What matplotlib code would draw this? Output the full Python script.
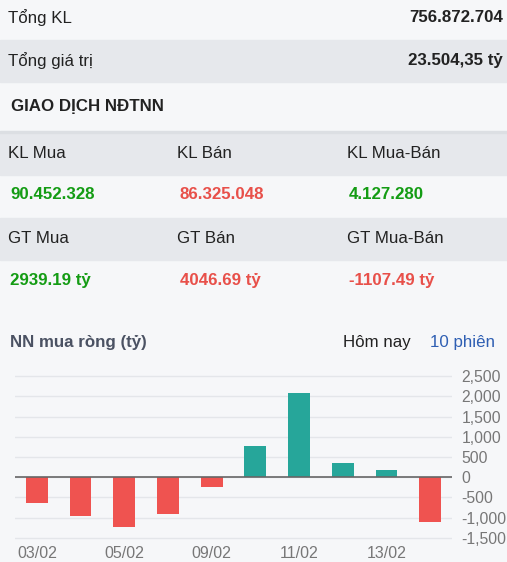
import matplotlib
matplotlib.use("Agg")
import matplotlib.pyplot as plt
from matplotlib.patches import Rectangle

# ---- data ----
summary_labels = ["Tổng KL", "Tổng giá trị"]
summary_values = ["756.872.704", "23.504,35 tỷ"]
section_title = "GIAO DỊCH NĐTNN"
kl_headers = ["KL Mua", "KL Bán", "KL Mua-Bán"]
kl_values = ["90.452.328", "86.325.048", "4.127.280"]
gt_headers = ["GT Mua", "GT Bán", "GT Mua-Bán"]
gt_values = ["2939.19 tỷ", "4046.69 tỷ", "-1107.49 tỷ"]
value_signs = [1, -1, 1]      # colour of KL row
gt_signs = [1, -1, -1]        # colour of GT row

dates = ["03/02", "04/02", "05/02", "06/02", "09/02",
         "10/02", "11/02", "12/02", "13/02", "16/02"]
net_buy = [-630, -950, -1240, -910, -250, 760, 2080, 345, 190, -1107.49]
yticks = [-1500, -1000, -500, 0, 500, 1000, 1500, 2000, 2500]

W, H = 507, 562
BG_LIGHT = "#f6f7f9"
BG_GRAY = "#e6e8ec"
INK = "#222222"
GREEN = "#149c14"
RED = "#e8504a"
TEAL = "#26a69a"
BAR_RED = "#ef5350"
FONT = "Liberation Sans"
FS = 12.2

plt.rcParams["font.family"] = [FONT, "DejaVu Sans"]

fig = plt.figure(figsize=(W / 100, H / 100), dpi=100)
fig.patch.set_facecolor(BG_LIGHT)


def band(y0, y1, color):
    fig.patches.append(Rectangle((0, 1 - y1 / H), 1, (y1 - y0) / H,
                                 transform=fig.transFigure, color=color, zorder=0))


def txt(x, y, s, **kw):
    kw.setdefault("fontsize", FS)
    kw.setdefault("color", INK)
    fig.text(x / W, 1 - y / H, s, va="center", **kw)


# row backgrounds
band(40, 82, BG_GRAY)
band(132, 175, BG_GRAY)
band(218, 260, BG_GRAY)
band(131.5, 132.5, "#dcdfe3")

# summary rows
for (lab, val), yc in zip(zip(summary_labels, summary_values), [18, 61]):
    txt(8, yc, lab)
    txt(503, yc, val, ha="right", fontweight="bold")

txt(11, 107, section_title, fontweight="bold")

cols = [8, 177, 347]
vcols = [10, 180, 349]
for x, h in zip(cols, kl_headers):
    txt(x, 153, h)
for x, v, s in zip(vcols, kl_values, value_signs):
    txt(x, 195, v, fontweight="bold", color=GREEN if s > 0 else RED)
for x, h in zip(cols, gt_headers):
    txt(x, 238, h)
for x, v, s in zip(vcols, gt_values, gt_signs):
    txt(x, 281, v, fontweight="bold", color=GREEN if s > 0 else RED)

# chart header
txt(10, 342, "NN mua ròng (tỷ)", fontweight="bold", color="#4b5263")
txt(343, 342, "Hôm nay")
txt(430, 342, "10 phiên", color="#2f5fb3")

# ---- bar chart ----
ax_top, ax_bot = 372, 542
ax = fig.add_axes([15 / W, 1 - ax_bot / H, 437 / W, (ax_bot - ax_top) / H])
ax.set_facecolor("none")
xs = list(range(len(dates)))
colors = [TEAL if v >= 0 else BAR_RED for v in net_buy]
ax.bar(xs, net_buy, width=0.5, color=colors, zorder=3)
ax.axhline(0, color="#666666", lw=1.2, zorder=4)
ax.set_xlim(-0.5, len(dates) - 0.5)
ax.set_ylim(-1600, 2600)
ax.set_yticks(yticks)
ax.set_yticklabels([f"{t:,}" for t in yticks])
ax.grid(axis="y", color="#e4e6ea", lw=1, zorder=0)
ax.yaxis.tick_right()
ax.tick_params(axis="y", length=0, pad=7, labelsize=11.3, labelcolor="#777777")
ax.set_xticks(xs[::2])
ax.set_xticklabels(dates[::2])
ax.tick_params(axis="x", length=0, pad=3, labelsize=11.5, labelcolor="#777777")
for sp in ax.spines.values():
    sp.set_visible(False)

fig.savefig("out.png", dpi=100, facecolor=fig.get_facecolor())
